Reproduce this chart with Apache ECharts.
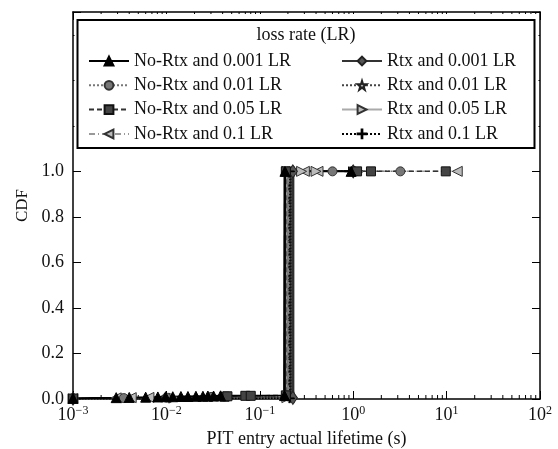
<!DOCTYPE html>
<html>
<head>
<meta charset="utf-8">
<title>PIT entry lifetime CDF</title>
<script src="https://cdn.jsdelivr.net/npm/echarts@6/dist/echarts.min.js"></script>
<style>
  html, body { margin: 0; padding: 0; background: #fff; }
  #main { width: 558px; height: 449px; }
</style>
</head>
<body>
<div id="main"></div>
<script>
// series names, legend columns
var names = ['No-Rtx and 0.001 LR', 'No-Rtx and 0.01 LR', 'No-Rtx and 0.05 LR', 'No-Rtx and 0.1 LR',
             'Rtx and 0.001 LR', 'Rtx and 0.01 LR', 'Rtx and 0.05 LR', 'Rtx and 0.1 LR'];

// [lifetime (s), CDF]
var noRtx001 = [[0.001, 0.003], [0.0029, 0.006], [0.004, 0.007], [0.006, 0.008], [0.0081, 0.009],
                [0.0098, 0.01], [0.0117, 0.01], [0.0143, 0.011], [0.017, 0.011], [0.0207, 0.012],
                [0.0246, 0.012], [0.0278, 0.013], [0.032, 0.013], [0.038, 0.014], [0.184, 0.015],
                [0.186, 1.0], [0.95, 1.0]];
var noRtx01  = [[0.001, 0.002], [0.0035, 0.004], [0.01, 0.006], [0.03, 0.009], [0.2, 0.012],
                [0.2, 1.0], [0.6, 1.0], [3.2, 1.0]];
var noRtx05  = [[0.001, 0.002], [0.042, 0.01], [0.045, 0.012], [0.07, 0.014], [0.08, 0.014],
                [0.19, 0.016], [0.19, 1.0], [1.1, 1.0], [1.55, 1.0], [9.8, 1.0]];
var noRtx1   = [[0.001, 0.002], [0.0029, 0.005], [0.0042, 0.006], [0.0065, 0.007], [0.205, 0.01],
                [0.205, 1.0], [0.3, 1.0], [0.42, 1.0], [13, 1.0]];
var rtx001   = [[0.001, 0.001], [0.226, 0.005], [0.226, 1.0], [1.0, 1.0]];
var rtx01    = [[0.001, 0.001], [0.218, 0.004], [0.218, 1.0], [1.05, 1.0]];
var rtx05    = [[0.001, 0.001], [0.012, 0.004], [0.195, 0.006], [0.195, 1.0], [0.28, 1.0], [0.4, 1.0], [1.15, 1.0]];
var rtx1     = [[0.001, 0.001], [0.21, 0.003], [0.21, 1.0], [0.9, 1.0]];

var yTicks = [0, 0.2, 0.4, 0.6, 0.8, 1.0];

var FONT = '"Liberation Serif", "DejaVu Serif", serif';
var STAR = 'path://M0,-1L0.2245,-0.309L0.951,-0.309L0.363,0.118L0.588,0.809L0,0.382L-0.588,0.809L-0.363,0.118L-0.951,-0.309L-0.2245,-0.309Z';
var PLUS = 'path://M-1,-0.08H1V0.08H-1Z M-0.08,-1H0.08V1H-0.08Z';

// minor tick positions of the log axis
var minorTicks = [];
for (var k = -3; k < 2; k++) {
  for (var m = 2; m < 10; m++) minorTicks.push([m * Math.pow(10, k), 0]);
}

var chart = echarts.init(document.getElementById('main'));

function line(name, data, o) {
  return {
    name: name, type: 'line', data: data, z: o.z || 3,
    symbol: o.symbol, symbolSize: o.size, symbolRotate: o.rotate || 0,
    itemStyle: { color: o.fill, borderColor: o.edge, borderWidth: 1 },
    lineStyle: { color: o.line, width: o.width || 1.5, type: o.type || 'solid' },
    emphasis: { disabled: true }
  };
}

// the steep jump of each CDF, drawn again as a heavy dark stroke (same legend name)
function rise(name, data) {
  var i = 0;
  while (i < data.length - 1 && !(data[i][1] < 0.5 && data[i + 1][1] >= 0.5)) i++;
  return {
    name: name, type: 'line', data: data.slice(i, i + 2), z: 2, showSymbol: false,
    lineStyle: { color: '#2a2a2a', width: 3 }, emphasis: { disabled: true }, silent: true
  };
}

var supLabel = function (v) {
  var e = Math.round(Math.log10(v));
  return '{b|10}{s|' + (e < 0 ? '\u2212' + (-e) : e) + '}';
};

var frameTick = { inside: true, length: 8, lineStyle: { color: '#000', width: 1 } };
var frameLine = { show: true, onZero: false, lineStyle: { color: '#000', width: 1.5 } };

chart.setOption({
  animation: false,
  grid: { left: 73, right: 18, top: 12, bottom: 50, outerBoundsMode: 'none' },
  xAxis: [{
    type: 'log', logBase: 10, min: 0.001, max: 100, splitNumber: 5,
    name: 'PIT entry actual lifetime (s)', nameLocation: 'middle', nameGap: 31,
    nameTextStyle: { fontFamily: FONT, fontSize: 18, color: '#111' },
    axisLine: frameLine, axisTick: frameTick, splitLine: { show: false },
    axisLabel: {
      margin: 6, formatter: supLabel,
      rich: {
        b: { fontFamily: FONT, fontSize: 18, color: '#111' },
        s: { fontFamily: FONT, fontSize: 12, color: '#111', padding: [0, 0, 9, 0] }
      }
    }
  }, {
    type: 'log', logBase: 10, min: 0.001, max: 100, splitNumber: 5, position: 'top',
    axisLine: frameLine, axisTick: frameTick,
    axisLabel: { show: false }, splitLine: { show: false }
  }],
  yAxis: [{
    type: 'value', min: 0, max: 1.7, interval: 0.2,
    name: 'CDF', nameLocation: 'middle', nameGap: 34,
    nameTextStyle: { fontFamily: FONT, fontSize: 17, color: '#111' },
    axisLine: frameLine, axisTick: frameTick, splitLine: { show: false },
    axisLabel: {
      margin: 9, fontFamily: FONT, fontSize: 18, color: '#111',
      formatter: function (v) {
        for (var i = 0; i < yTicks.length; i++) if (Math.abs(v - yTicks[i]) < 1e-6) return v.toFixed(1);
        return '';
      }
    }
  }, {
    type: 'value', min: 0, max: 1.7, interval: 0.2, position: 'right',
    axisLine: frameLine, axisTick: frameTick,
    axisLabel: { show: false }, splitLine: { show: false }
  }],
  legend: [{
    data: names.slice(0, 4), orient: 'vertical', left: 83, top: 47, itemGap: 6.3,
    itemWidth: 40, itemHeight: 11, z: 5,
    textStyle: { fontFamily: FONT, fontSize: 18, color: '#111' }
  }, {
    data: names.slice(4), orient: 'vertical', left: 336, top: 47, itemGap: 6.3,
    itemWidth: 40, itemHeight: 11, z: 5,
    textStyle: { fontFamily: FONT, fontSize: 18, color: '#111' }
  }],
  graphic: [
    { type: 'rect', z: 4, shape: { x: 74.5, y: 14, width: 464, height: 139 }, style: { fill: '#fff' } },
    { type: 'rect', z: 4, shape: { x: 77.5, y: 20, width: 457, height: 128 },
      style: { fill: '#fff', stroke: '#000', lineWidth: 2 } },
    { type: 'text', z: 5, x: 306, y: 35,
      style: { text: 'loss rate (LR)', font: '18px ' + FONT, fill: '#111', align: 'center', verticalAlign: 'middle' } }
  ],
  series: [
    line(names[3], noRtx1,   { symbol: 'triangle', rotate: 90, size: 10, fill: '#bbb', edge: '#333', line: '#999', type: [6, 3, 1, 3] }),
    line(names[6], rtx05,    { symbol: 'triangle', rotate: -90, size: 10, fill: '#bbb', edge: '#333', line: '#aaa' }),
    line(names[1], noRtx01,  { symbol: 'circle', size: 9, fill: '#777', edge: '#333', line: '#777', type: 'dotted' }),
    line(names[5], rtx01,    { symbol: STAR, size: 9, fill: '#ddd', edge: '#222', line: '#444', type: 'dotted' }),
    line(names[4], rtx001,   { symbol: 'diamond', size: [9, 13], fill: '#555', edge: '#222', line: '#333' }),
    line(names[7], rtx1,     { symbol: PLUS, size: 9, fill: '#000', edge: '#000', line: '#000', type: 'dotted' }),
    line(names[2], noRtx05,  { symbol: 'rect', size: 9, fill: '#444', edge: '#111', line: '#333', type: [5, 3] }),
    line(names[0], noRtx001, { symbol: 'triangle', size: 10, fill: '#000', edge: '#000', line: '#000', width: 2 }),
    rise(names[0], noRtx001), rise(names[1], noRtx01), rise(names[2], noRtx05), rise(names[3], noRtx1),
    rise(names[4], rtx001), rise(names[5], rtx01), rise(names[6], rtx05), rise(names[7], rtx1),
    {
      type: 'custom', data: minorTicks, clip: false, silent: true, z: 1,
      renderItem: function (params, api) {
        var x = api.coord([api.value(0), 0.5])[0];
        var cs = params.coordSys;
        var b = cs.y + cs.height;
        return { type: 'group', children: [
          { type: 'line', shape: { x1: x, y1: b, x2: x, y2: b - 4 }, style: { stroke: '#000', lineWidth: 1 } },
          { type: 'line', shape: { x1: x, y1: cs.y, x2: x, y2: cs.y + 4 }, style: { stroke: '#000', lineWidth: 1 } }
        ] };
      }
    }
  ]
});

window.onresize = function () { chart.resize(); };
</script>
</body>
</html>
